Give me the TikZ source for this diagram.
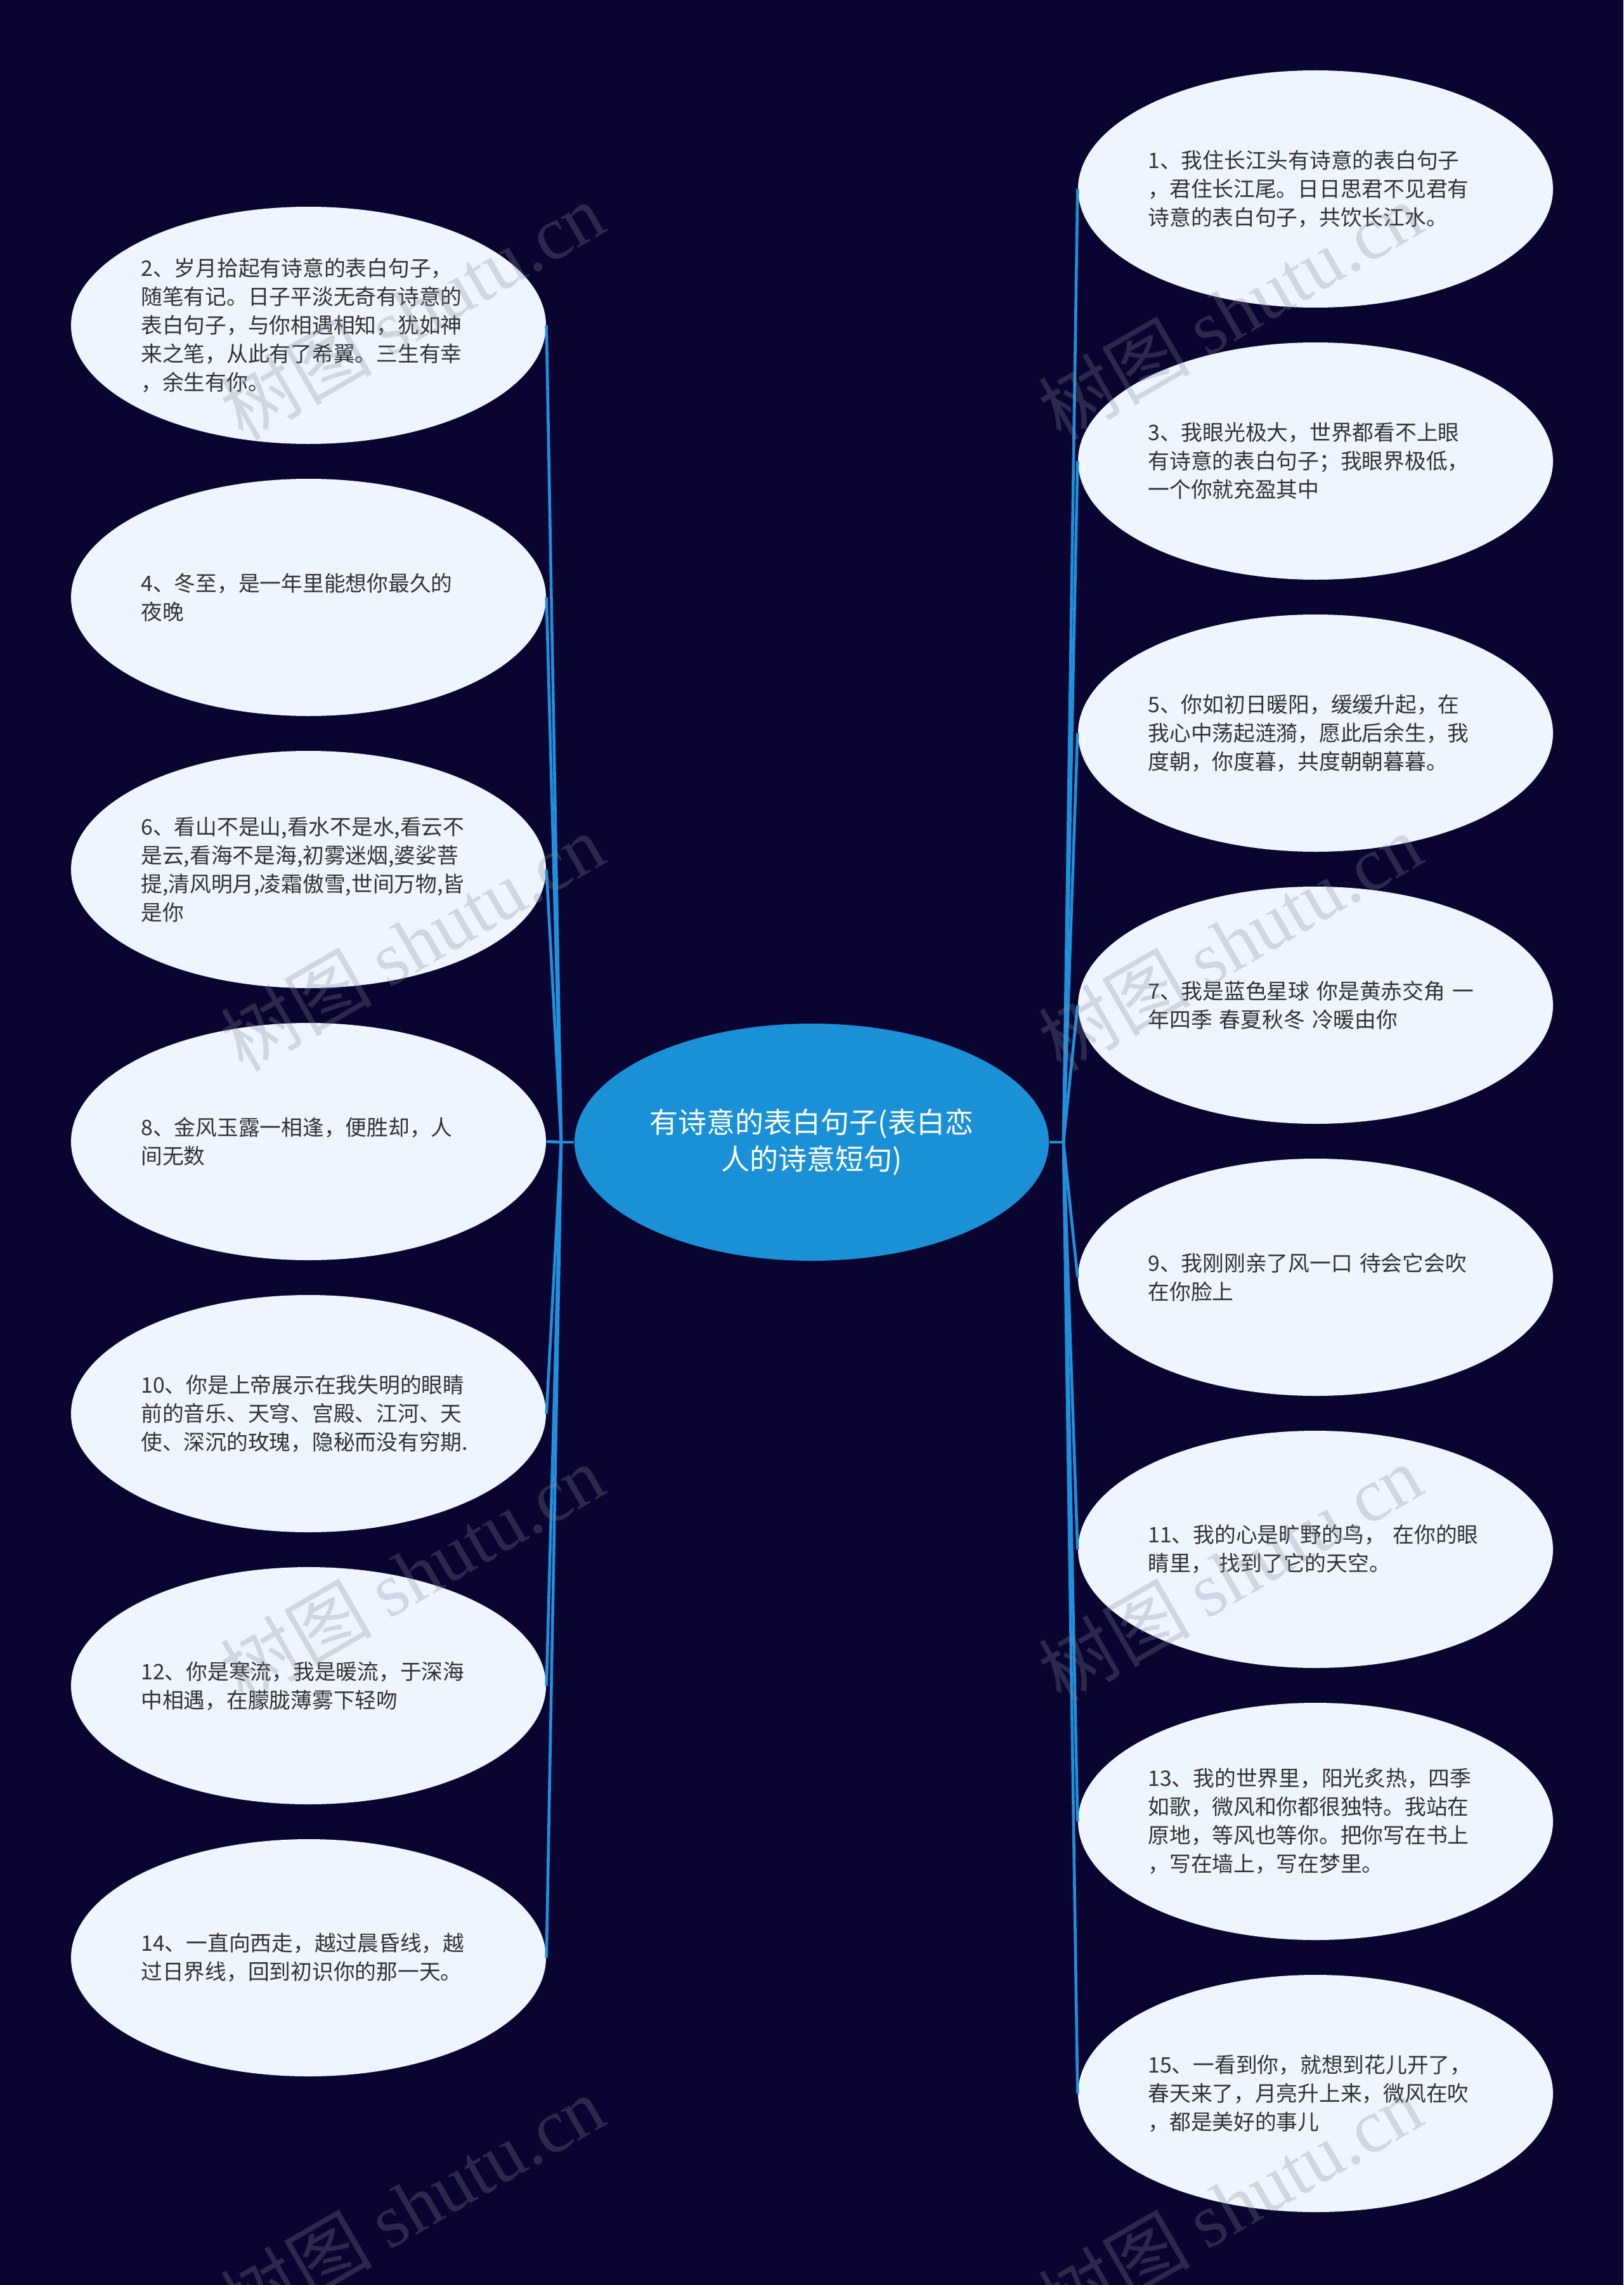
\documentclass[tikz,border=0pt]{standalone}
\usepackage{fontspec}
\setmainfont{Noto Sans CJK SC}
\newfontfamily\wmfont{Liberation Serif}
\usetikzlibrary{shapes.geometric,positioning}

\definecolor{bgnavy}{RGB}{10,5,48}
\definecolor{leaffill}{RGB}{238,245,255}
\definecolor{rootfill}{RGB}{26,145,214}
\definecolor{linkblue}{RGB}{30,144,220}
\definecolor{leaftext}{RGB}{51,51,51}
\definecolor{wmgray}{RGB}{130,135,150}

\begin{document}
\begin{tikzpicture}[
    leaf/.style={ellipse, fill=leaffill, minimum width=7.49cm, minimum height=3.74cm, inner sep=0pt, text width=5.28cm, align=left, text=leaftext, font=\fontsize{9.6}{12.8}\selectfont},
    root/.style={ellipse, fill=rootfill, minimum width=7.48cm, minimum height=3.74cm, inner sep=0pt, align=center, text=white, font=\fontsize{12.8}{16.5}\selectfont},
    link/.style={draw=linkblue, line width=1.3pt},
    wmark/.style={rotate=30, text=wmgray, opacity=0.27, font=\fontsize{34}{34}\selectfont}
]
\useasboundingbox (0,0) rectangle (25.6,-36.03);
\fill[bgnavy] (0,0) rectangle (25.6,-36.03);

% centre
\node[root] (root) at (12.8,-18.01) {有诗意的表白句子(表白恋\\人的诗意短句)};
\coordinate (jl) at (8.85,-18.01);
\coordinate (jr) at (16.77,-18.01);

% left side
\node[leaf] (s2) at (4.865,-5.13) {2、岁月拾起有诗意的表白句子，\\随笔有记。日子平淡无奇有诗意的\\表白句子，与你相遇相知，犹如神\\来之笔，从此有了希翼。三生有幸\\，余生有你。};
\node[leaf] (s4) at (4.865,-9.42) {4、冬至，是一年里能想你最久的\\夜晚};
\node[leaf] (s6) at (4.865,-13.71) {6、看山不是山,看水不是水,看云不\\是云,看海不是海,初雾迷烟,婆娑菩\\提,清风明月,凌霜傲雪,世间万物,皆\\是你};
\node[leaf] (s8) at (4.865,-18.00) {8、金风玉露一相逢，便胜却，人\\间无数};
\node[leaf] (s10) at (4.865,-22.29) {10、你是上帝展示在我失明的眼睛\\前的音乐、天穹、宫殿、江河、天\\使、深沉的玫瑰，隐秘而没有穷期.};
\node[leaf] (s12) at (4.865,-26.58) {12、你是寒流，我是暖流，于深海\\中相遇，在朦胧薄雾下轻吻};
\node[leaf] (s14) at (4.865,-30.87) {14、一直向西走，越过晨昏线，越\\过日界线，回到初识你的那一天。};

% right side
\node[leaf] (s1) at (20.745,-2.98) {1、我住长江头有诗意的表白句子\\，君住长江尾。日日思君不见君有\\诗意的表白句子，共饮长江水。};
\node[leaf] (s3) at (20.745,-7.27) {3、我眼光极大，世界都看不上眼\\有诗意的表白句子；我眼界极低，\\一个你就充盈其中};
\node[leaf] (s5) at (20.745,-11.56) {5、你如初日暖阳，缓缓升起，在\\我心中荡起涟漪，愿此后余生，我\\度朝，你度暮，共度朝朝暮暮。};
\node[leaf] (s7) at (20.745,-15.85) {7、我是蓝色星球 你是黄赤交角 一\\年四季 春夏秋冬 冷暖由你};
\node[leaf] (s9) at (20.745,-20.14) {9、我刚刚亲了风一口 待会它会吹\\在你脸上};
\node[leaf] (s11) at (20.745,-24.43) {11、我的心是旷野的鸟， 在你的眼\\睛里， 找到了它的天空。};
\node[leaf] (s13) at (20.745,-28.72) {13、我的世界里，阳光炙热，四季\\如歌，微风和你都很独特。我站在\\原地，等风也等你。把你写在书上\\，写在墙上，写在梦里。};
\node[leaf] (s15) at (20.745,-33.01) {15、一看到你，就想到花儿开了，\\春天来了，月亮升上来，微风在吹\\，都是美好的事儿};

% connectors
\draw[link] (root.west) -- (jl);
\draw[link] (jl) -- (s2.east);
\draw[link] (jl) -- (s4.east);
\draw[link] (jl) -- (s6.east);
\draw[link] (jl) -- (s8.east);
\draw[link] (jl) -- (s10.east);
\draw[link] (jl) -- (s12.east);
\draw[link] (jl) -- (s14.east);
\draw[link] (root.east) -- (jr);
\draw[link] (jr) -- (s1.west);
\draw[link] (jr) -- (s3.west);
\draw[link] (jr) -- (s5.west);
\draw[link] (jr) -- (s7.west);
\draw[link] (jr) -- (s9.west);
\draw[link] (jr) -- (s11.west);
\draw[link] (jr) -- (s13.west);
\draw[link] (jr) -- (s15.west);

% watermark
\node[wmark] (wm1) at (6.5,-4.9) {树图 {\wmfont shutu.cn}};
\node[wmark] (wm2) at (6.5,-14.85) {树图 {\wmfont shutu.cn}};
\node[wmark] (wm3) at (6.5,-24.8) {树图 {\wmfont shutu.cn}};
\node[wmark] (wm4) at (6.5,-34.75) {树图 {\wmfont shutu.cn}};
\node[wmark] (wm5) at (19.4,-4.9) {树图 {\wmfont shutu.cn}};
\node[wmark] (wm6) at (19.4,-14.85) {树图 {\wmfont shutu.cn}};
\node[wmark] (wm7) at (19.4,-24.8) {树图 {\wmfont shutu.cn}};
\node[wmark] (wm8) at (19.4,-34.75) {树图 {\wmfont shutu.cn}};
\end{tikzpicture}
\end{document}
